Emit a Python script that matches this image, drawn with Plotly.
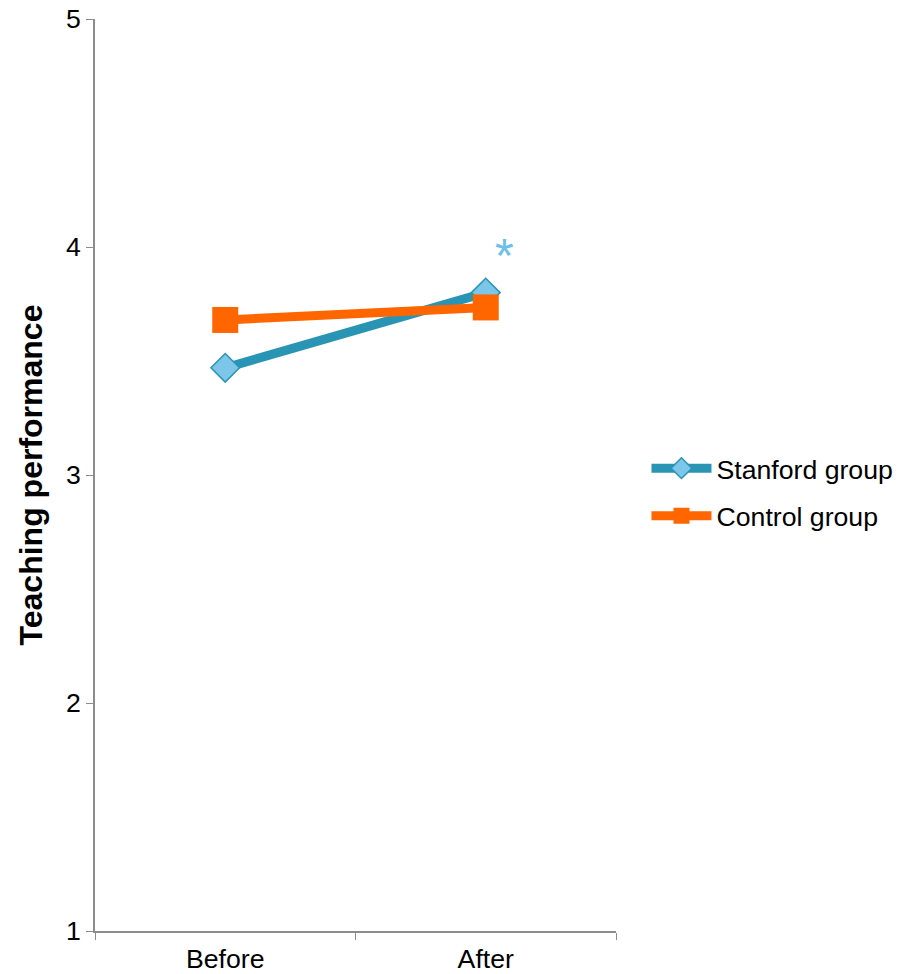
import plotly.graph_objects as go

categories = ["Before", "After"]
stanford = [3.47, 3.80]
control = [3.68, 3.735]
y_ticks = [1, 2, 3, 4, 5]
star_label = "*"
star_value = 3.98

fig = go.Figure()
fig.add_trace(go.Scatter(
    x=categories, y=stanford, name="Stanford group", mode="lines+markers",
    legendgroup="a",
    line=dict(color="#2a94b4", width=9),
    marker=dict(symbol="diamond", size=22, color="#7cc6ea",
                line=dict(color="#2a94b4", width=1.5)),
))
fig.add_trace(go.Scatter(
    x=categories, y=control, name="Control group", mode="lines+markers",
    legendgroup="b",
    line=dict(color="#ff6600", width=9),
    marker=dict(symbol="square", size=26, color="#ff6600"),
))
fig.add_annotation(x=categories[1], y=star_value, text=star_label, showarrow=False,
                   xshift=19, yshift=-4,
                   font=dict(size=48, color="#6cc0e8", family="Liberation Sans"))

fig.update_layout(
    width=909, height=974,
    margin=dict(l=87, r=301, t=11, b=51, autoexpand=False),
    paper_bgcolor="white", plot_bgcolor="white",
    font=dict(family="Liberation Sans, Arial", size=26.67, color="black"),
    showlegend=True,
    legend=dict(x=1.0585, y=0.481, xanchor="left", yanchor="middle",
                font=dict(size=26.67), tracegroupgap=10, itemwidth=60),
)
fig.update_xaxes(
    type="category", range=[-0.5, 1.5], showgrid=False, showline=True,
    linecolor="#8c8c8c", linewidth=1.5, ticks="outside", ticklen=7,
    tickcolor="#8c8c8c", tickson="boundaries", tickfont=dict(size=26.67),
    ticklabelstandoff=3, automargin=False,
)
fig.update_yaxes(
    range=[1, 5], tickvals=y_ticks, showgrid=False, showline=True,
    linecolor="#8c8c8c", linewidth=1.5, ticks="outside", ticklen=7,
    tickcolor="#8c8c8c", tickfont=dict(size=26.67), zeroline=False,
    ticklabeloverflow="allow", automargin=False,
    title=dict(text="<b>Teaching performance</b>", font=dict(size=32), standoff=14),
)
fig.write_html("out.html")
